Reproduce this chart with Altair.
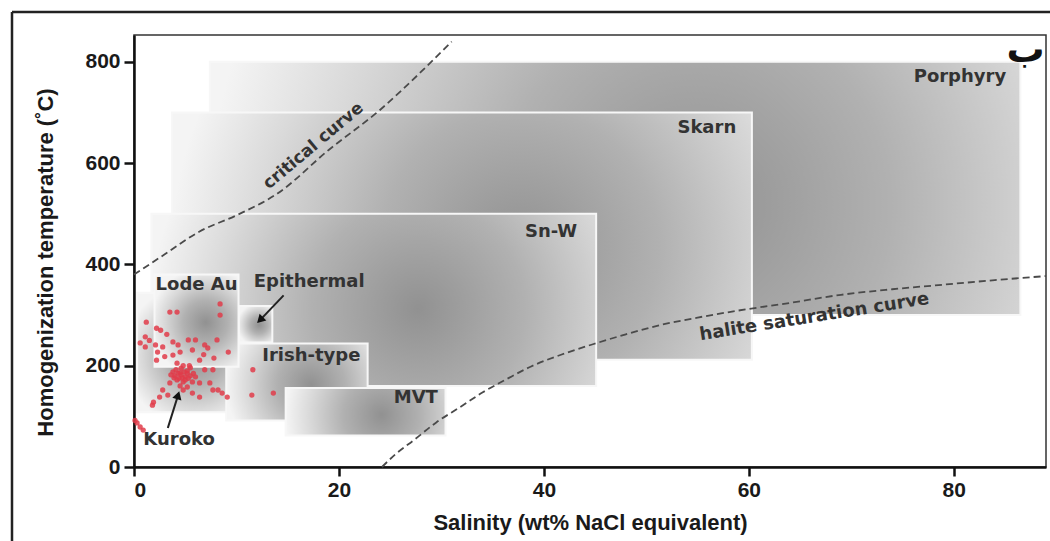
import altair as alt
import pandas as pd

# ---- deposit-type fields (drawn back to front) ----
box_names = ["Porphyry", "Skarn", "Sn-W", "Kuroko", "Irish-type", "Epithermal", "Lode Au", "MVT"]
box_x1 = [7.4, 3.7, 1.7, 0.3, 9.0, 10.2, 2.0, 14.8]
box_x2 = [86.5, 60.3, 45.1, 9.4, 22.8, 13.5, 10.2, 30.4]
box_y1 = [300, 212, 160, 108, 92, 246, 198, 62]
box_y2 = [800, 700, 500, 344, 244, 318, 380, 156]

# ---- field labels ----
label_text = ["Porphyry", "Skarn", "Sn-W", "Lode Au", "Epithermal", "Irish-type", "MVT", "Kuroko"]
label_x = [80.6, 55.9, 40.7, 6.1, 17.1, 17.3, 27.5, 4.4]
label_y = [770, 670, 464, 360, 365, 219, 136, 53]

# ---- curves ----
crit_x = [0, 3, 6.4, 10, 14, 19, 24, 28, 31]
crit_y = [380, 420, 465, 497, 540, 626, 705, 780, 840]
hal_x = [24.2, 25.5, 27.3, 29.5, 31.8, 34, 36.5, 38.7, 42, 45.2, 48, 51.5, 55, 59, 64, 69, 74, 79, 84, 89]
hal_y = [0, 25, 53, 88, 118, 147, 175, 198, 224, 245, 262, 281, 295, 309, 324, 340, 351, 360, 369, 377]

# ---- Kuroko fluid inclusion data ----
kur_x = [8.4, 8.4, 3.5, 4.2, 1.2, 2.2, 1.1, 0.6, 1.1, 2.1, 2.3, 2.8, 3.8, 4.3, 5.3, 6.0, 6.9, 7.2,
         8.1, 9.2, 4.5, 5.7, 2.2, 3.8, 4.2, 6.4, 6.9, 7.7, 3.8, 4.5, 5.0, 5.5, 4.2, 4.8, 5.7, 3.5,
         2.8, 3.3, 2.5, 1.9, 1.8, 4.8, 5.7, 6.4, 6.4, 7.4, 7.7, 8.2, 8.6, 9.1, 11.6, 11.5, 13.6,
         0.3, 0.1, 0.6, 0.9, 4.0, 4.3, 4.6, 4.9, 5.2, 5.5, 4.4, 4.7, 5.0, 5.3, 4.1, 4.6, 5.8,
         5.2, 3.9, 4.8, 5.4, 3.6, 6.0, 4.5, 5.2, 1.5, 3.2, 7.8, 6.8, 2.6, 3.0]
kur_y = [322, 300, 306, 306, 286, 274, 257, 245, 237, 241, 227, 237, 247, 241, 251, 251, 241, 235,
         251, 227, 227, 231, 211, 221, 205, 211, 192, 192, 188, 186, 178, 196, 172, 168, 168, 166,
         152, 142, 138, 128, 122, 152, 146, 138, 166, 166, 152, 152, 146, 138, 192, 142, 146,
         87, 92, 79, 73, 180, 185, 182, 188, 185, 180, 175, 176, 172, 175, 192, 195, 185,
         190, 176, 200, 200, 182, 178, 160, 158, 250, 262, 215, 222, 270, 218]

# ---- arrows ----
arrow_x1 = [3.3, 14.6]
arrow_y1 = [77, 339]
arrow_x2 = [4.3, 12.3]
arrow_y2 = [142, 290]
arrow_angle = [17, 225]

boxes = pd.DataFrame({"name": box_names, "x1": box_x1, "x2": box_x2, "y1": box_y1, "y2": box_y2})
labels = pd.DataFrame({"t": label_text, "x": label_x, "y": label_y})
crit = pd.DataFrame({"x": crit_x, "y": crit_y})
hal = pd.DataFrame({"x": hal_x, "y": hal_y})
kur = pd.DataFrame({"x": kur_x, "y": kur_y})
arrows = pd.DataFrame({"x1": arrow_x1, "y1": arrow_y1, "x2": arrow_x2, "y2": arrow_y2, "a": arrow_angle})

xs = alt.Scale(domain=[0, 89], nice=False, zero=False)
ys = alt.Scale(domain=[0, 853], nice=False, zero=False)

xaxis = alt.Axis(values=[0, 20, 40, 60, 80], title="Salinity (wt% NaCl equivalent)",
                 titleFont="Liberation Sans", titleFontSize=22, titleFontWeight="bold", titleColor="#1a1a1a",
                 titleY=55, titleBaseline="middle",
                 labelFont="Liberation Sans", labelFontSize=21, labelFontWeight="bold", labelColor="#1a1a1a",
                 labelPadding=3, tickSize=9, tickWidth=2.5, tickColor="#111", domainColor="#111",
                 domainWidth=2.5, grid=False)
yaxis = alt.Axis(values=[0, 200, 400, 600, 800], title="Homogenization temperature (˚C)",
                 titleFont="Liberation Sans", titleFontSize=22, titleFontWeight="bold", titleColor="#1a1a1a",
                 titleX=-89, titleY=227, titleAngle=270, titleAlign="center", titleBaseline="middle",
                 labelFont="Liberation Sans", labelFontSize=21, labelFontWeight="bold", labelColor="#1a1a1a",
                 labelPadding=4, tickSize=10, tickWidth=2.5, tickColor="#111", domainColor="#111",
                 domainWidth=2.5, grid=False)

grad = {"gradient": "radial", "x1": 0.6, "y1": 0.52, "r1": 0, "x2": 0.6, "y2": 0.52, "r2": 0.6,
        "stops": [{"offset": 0, "color": "#919191"},
                  {"offset": 0.4, "color": "#b1b1b1"},
                  {"offset": 0.75, "color": "#d9d9d9"},
                  {"offset": 1, "color": "#f4f4f4"}]}

rects = alt.Chart(boxes).mark_rect(fill=grad, stroke="#f7f7f7", strokeWidth=2).encode(
    x=alt.X("x1:Q", scale=xs, axis=xaxis),
    x2="x2:Q",
    y=alt.Y("y1:Q", scale=ys, axis=yaxis),
    y2="y2:Q",
)

crit_line = alt.Chart(crit).mark_line(color="#4a4a4a", strokeDash=[7, 4], strokeWidth=1.8,
                                      interpolate="monotone").encode(
    x=alt.X("x:Q", scale=xs), y=alt.Y("y:Q", scale=ys))
hal_line = alt.Chart(hal).mark_line(color="#4a4a4a", strokeDash=[7, 4], strokeWidth=1.8,
                                    interpolate="monotone").encode(
    x=alt.X("x:Q", scale=xs), y=alt.Y("y:Q", scale=ys))

dots = alt.Chart(kur).mark_circle(color="#e03c4a", opacity=0.85, size=28).encode(
    x=alt.X("x:Q", scale=xs), y=alt.Y("y:Q", scale=ys))

arrow_lines = alt.Chart(arrows).mark_rule(color="#222", strokeWidth=2).encode(
    x=alt.X("x1:Q", scale=xs), y=alt.Y("y1:Q", scale=ys), x2="x2:Q", y2="y2:Q")
arrow_heads = alt.Chart(arrows).mark_point(shape="triangle-up", filled=True, color="#111",
                                           size=90, opacity=1).encode(
    x=alt.X("x2:Q", scale=xs), y=alt.Y("y2:Q", scale=ys), angle=alt.Angle("a:Q", scale=None))

texts = alt.Chart(labels).mark_text(font="DejaVu Sans", fontWeight="bold", fontSize=18,
                                    color="#333", align="center", baseline="middle").encode(
    x=alt.X("x:Q", scale=xs), y=alt.Y("y:Q", scale=ys), text="t:N")

crit_lab = alt.Chart(pd.DataFrame({"t": ["critical curve"], "x": [17.5], "y": [634]})).mark_text(
    font="DejaVu Sans", fontWeight="bold", fontSize=17, color="#333", angle=320,
    align="center", baseline="middle").encode(
    x=alt.X("x:Q", scale=xs), y=alt.Y("y:Q", scale=ys), text="t:N")
hal_lab = alt.Chart(pd.DataFrame({"t": ["halite saturation curve"], "x": [66.4], "y": [296]})).mark_text(
    font="DejaVu Sans", fontWeight="bold", fontSize=18, color="#333", angle=351,
    align="center", baseline="middle").encode(
    x=alt.X("x:Q", scale=xs), y=alt.Y("y:Q", scale=ys), text="t:N")
panel_lab = alt.Chart(pd.DataFrame({"t": ["ب"], "x": [87.0], "y": [822]})).mark_text(
    font="DejaVu Sans", fontWeight="bold", fontSize=38, color="#111",
    align="center", baseline="middle").encode(
    x=alt.X("x:Q", scale=xs), y=alt.Y("y:Q", scale=ys), text="t:N")

frame_src = pd.DataFrame({"k": [0]})
frame_left = alt.Chart(frame_src).mark_rule(color="#222", strokeWidth=2.5).encode(
    x=alt.value(-122), y=alt.value(-23), y2=alt.value(520))
frame_top = alt.Chart(frame_src).mark_rule(color="#222", strokeWidth=2.5).encode(
    x=alt.value(-122), x2=alt.value(930), y=alt.value(-23))

chart = alt.layer(
    rects, crit_line, hal_line, dots, arrow_lines, arrow_heads, texts, crit_lab, hal_lab, panel_lab,
    frame_left, frame_top
).properties(
    width=912, height=432,
    autosize=alt.AutoSizeParams(type="none"),
    padding={"left": 134, "top": 35, "right": 4, "bottom": 74},
    background="white",
).configure_view(stroke="#333", strokeWidth=1.5)

chart.save("out.html", embed_options={"renderer": "svg", "actions": False})
